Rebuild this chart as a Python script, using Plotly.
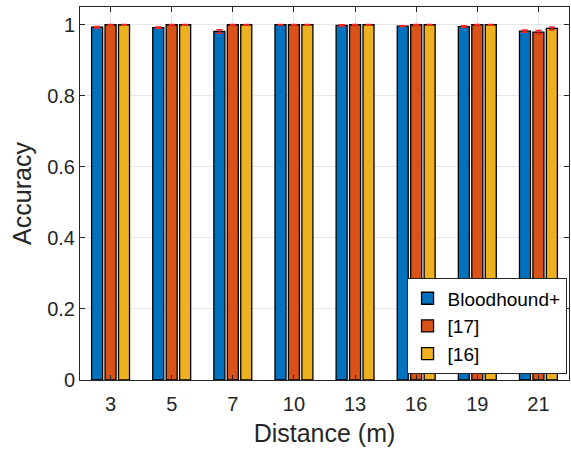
import plotly.graph_objects as go

categories = ["3", "5", "7", "10", "13", "16", "19", "21"]
bloodhound = [0.993, 0.992, 0.981, 1.0, 0.998, 0.996, 0.995, 0.982]
bloodhound_err = [0.002, 0.002, 0.005, 0.001, 0.002, 0.001, 0.002, 0.003]
ref17 = [1.0, 1.0, 1.0, 1.0, 1.0, 1.0, 1.0, 0.979]
ref17_err = [0.001, 0.001, 0.001, 0.001, 0.001, 0.001, 0.001, 0.005]
ref16 = [1.0, 1.0, 1.0, 1.0, 1.0, 1.0, 1.0, 0.990]
ref16_err = [0.001, 0.001, 0.001, 0.001, 0.001, 0.001, 0.001, 0.004]

series = [
    ("Bloodhound+", bloodhound, bloodhound_err, "#0072BD"),
    ("[17]", ref17, ref17_err, "#D95319"),
    ("[16]", ref16, ref16_err, "#EDB120"),
]

fig = go.Figure()
for name, vals, errs, col in series:
    fig.add_trace(go.Bar(
        x=categories, y=vals, name=name,
        marker=dict(color=col, line=dict(color="black", width=1.3)),
        error_y=dict(type="data", array=errs, visible=True,
                     color="#FF2020", thickness=1.5, width=3),
    ))

fam = "Liberation Sans, Arial, sans-serif"
fig.update_layout(
    width=571, height=449,
    margin=dict(l=80, r=2, t=7, b=69),
    paper_bgcolor="white", plot_bgcolor="white",
    barmode="group", bargap=0.34, bargroupgap=0.18,
    font=dict(family=fam, size=20, color="#262626"),
    showlegend=True,
    legend=dict(x=0.995, xanchor="right", y=0.015, yanchor="bottom",
                bgcolor="white", bordercolor="#262626", borderwidth=1,
                font=dict(family=fam, size=19, color="black"),
                tracegroupgap=0, itemwidth=30),
    xaxis=dict(
        title=dict(text="Distance (m)", font=dict(size=25, color="#262626"), standoff=10),
        tickfont=dict(size=20), ticklabelstandoff=6,
        showline=True, linecolor="#262626", linewidth=1, mirror="ticks",
        ticks="inside", ticklen=5, tickcolor="#262626",
        showgrid=True, gridcolor="#E6E6E6",
        range=[-0.5, 7.5],
    ),
    yaxis=dict(
        title=dict(text="Accuracy", font=dict(size=25, color="#262626"), standoff=8),
        tickfont=dict(size=20),
        range=[0, 1.05], tickvals=[0, 0.2, 0.4, 0.6, 0.8, 1],
        ticktext=["0", "0.2", "0.4", "0.6", "0.8", "1"],
        showline=True, linecolor="#262626", linewidth=1, mirror="ticks",
        ticks="inside", ticklen=5, tickcolor="#262626",
        showgrid=True, gridcolor="#E6E6E6", zeroline=False,
    ),
)

fig.write_html("out.html")
